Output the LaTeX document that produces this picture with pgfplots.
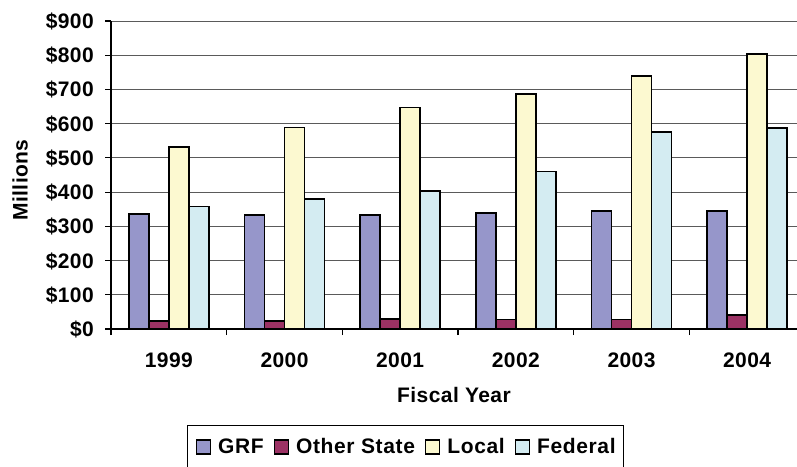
\documentclass[border=0pt]{standalone}
\usepackage{fontspec}
\setmainfont{Liberation Sans}[LetterSpace=2]
\newfontfamily\legfamily{Liberation Sans}[LetterSpace=3]
\usepackage{pgfplots}
\pgfplotsset{compat=1.18}

\definecolor{grfcol}{RGB}{150,150,202}
\definecolor{othercol}{RGB}{156,50,100}
\definecolor{localcol}{RGB}{252,249,208}
\definecolor{fedcol}{RGB}{212,236,242}
\definecolor{gridcol}{RGB}{90,90,90}

\newcommand{\lblfont}{\fontsize{21}{25}\selectfont\bfseries}
\newcommand{\legfont}{\fontsize{21}{25}\selectfont\legfamily\bfseries}

\pgfplotsset{
  barstyle/.style={fill=#1, draw=black, line width=1.8pt},
}

\begin{document}
\begin{tikzpicture}
\useasboundingbox (0,0) rectangle (797pt,466pt);
\begin{axis}[
  at={(111pt,137pt)}, anchor=south west,
  scale only axis, width=686pt, height=308pt,
  xmin=-0.5, xmax=5.431, ymin=0, ymax=900,
  ybar=0pt, bar width=20pt,
  axis lines*=left,
  axis line style={black, line width=1.8pt},
  ymajorgrids, grid style={gridcol, line width=1pt},
  ytick={0,100,...,900},
  yticklabels={\$0,\$100,\$200,\$300,\$400,\$500,\$600,\$700,\$800,\$900},
  xtick={0,...,5},
  xticklabels={1999,2000,2001,2002,2003,2004},
  minor xtick={-0.5,0.5,1.5,2.5,3.5,4.5},
  tick align=outside, major tick length=6pt, minor tick length=6pt,
  major x tick style={draw=none},
  minor x tick style={black, line width=1.2pt},
  major y tick style={black, line width=1.2pt},
  tick label style={font=\lblfont},
  yticklabel style={anchor=base east, inner sep=0pt, xshift=-11pt, yshift=-7.5pt},
  xticklabel style={anchor=north, inner sep=0pt, yshift=-18pt},
  xlabel={Fiscal Year},
  xlabel style={at={(axis description cs:0.5,-0.214)}, anchor=center, inner sep=0pt, font=\lblfont},
  ylabel={Millions},
  ylabel style={at={(axis description cs:-0.1326,0.484)}, anchor=center, inner sep=0pt, font=\lblfont},
  legend columns=4,
  legend cell align=left,
  legend image code/.code={\draw[#1, line width=1.4pt] (0pt,-7pt) rectangle (14pt,7pt);},
  legend style={at={(axis description cs:0.1108,-0.3831)}, anchor=west,
    draw=black, line width=1.4pt, font=\legfont,
    nodes={inner sep=0pt},
    inner xsep=8pt, inner ysep=13pt,
    /tikz/every odd column/.append style={column sep=7pt},
    /tikz/every even column/.append style={column sep=10pt}},
]
\addplot[barstyle=grfcol]
  coordinates {(0,335) (1,334) (2,334) (3,340) (4,345) (5,345)};
\addplot[barstyle=othercol]
  coordinates {(0,23) (1,23) (2,29) (3,28) (4,28) (5,40)};
\addplot[barstyle=localcol]
  coordinates {(0,531) (1,589) (2,647) (3,687) (4,739) (5,804)};
\addplot[barstyle=fedcol]
  coordinates {(0,358) (1,381) (2,404) (3,460) (4,576) (5,588)};
\legend{GRF,Other State,Local,Federal}
\end{axis}
\end{tikzpicture}
\end{document}
